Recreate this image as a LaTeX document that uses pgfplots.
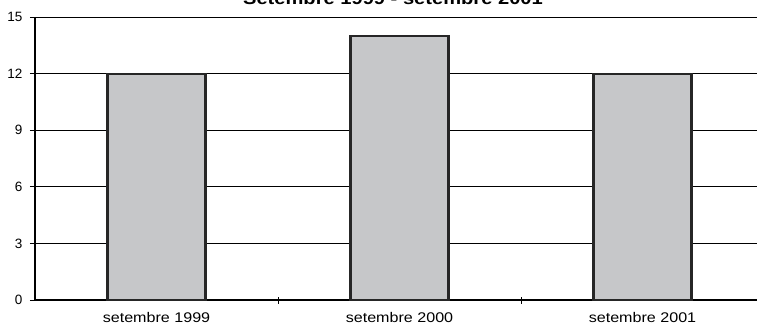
\documentclass[border=0pt]{standalone}
\usepackage{fontspec}
\setmainfont{Liberation Sans}
\newfontfamily\widefont[FakeStretch=1.15]{Liberation Sans}
\usepackage{pgfplots}
\pgfplotsset{compat=1.18}
\definecolor{barfill}{RGB}{198,199,201}
\begin{document}
\begin{tikzpicture}
\begin{axis}[
    at={(0,0)}, anchor=south west,
    scale only axis,
    width=729pt, height=283pt,
    ybar, bar width=98pt,
    xmin=-0.5, xmax=2.5,
    ymin=0, ymax=15,
    ytick={0,3,6,9,12,15},
    xtick={0,1,2},
    xticklabels={setembre 1999,setembre 2000,setembre 2001},
    extra x ticks={0.5,1.5},
    extra x tick labels={},
    extra x tick style={xtick style={draw=black, line width=0.8pt}, tick align=center, major tick length=7pt},
    axis x line*=bottom,
    axis y line*=left,
    ymajorgrids,
    grid style={black, line width=0.8pt},
    axis line style={black, line width=1.4pt},
    tick style={black, line width=0.8pt},
    major tick length=5pt,
    xtick style={draw=none},
    y tick label style={font=\fontsize{13.5}{14}\selectfont},
    x tick label style={font=\widefont\fontsize{14}{15}\selectfont, yshift=-4pt},
    yticklabel style={xshift=-4pt},
    /pgf/number format/assume math mode=true,
    tick align=outside,
]
\addplot[fill=barfill, draw=black!85, line width=2.2pt]
  coordinates {(0,12) (1,14) (2,12)};
\draw[black, line width=1.4pt] (rel axis cs:0,1) -- (rel axis cs:1,1);
\end{axis}
\node[anchor=base, font=\bfseries\widefont\fontsize{17.5}{18}\selectfont] at (358pt,295pt) {Setembre 1999 - setembre 2001};
\pgfresetboundingbox
\useasboundingbox (-35pt,-33pt) rectangle (722pt,300pt);
\end{tikzpicture}
\end{document}
